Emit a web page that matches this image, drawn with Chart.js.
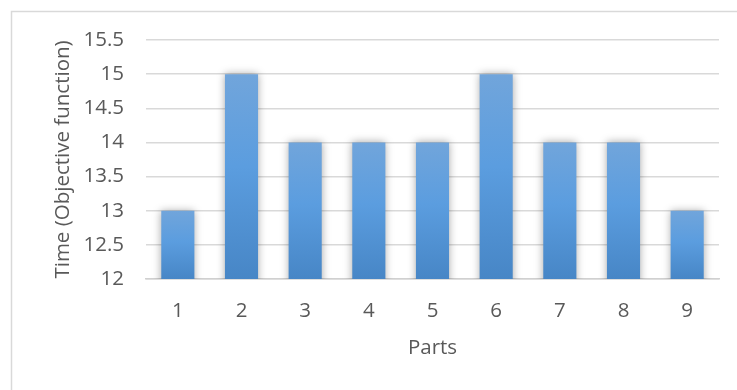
<!DOCTYPE html>
<html>
<head>
<meta charset="utf-8">
<script src="https://cdn.jsdelivr.net/npm/chart.js@4/dist/chart.umd.min.js"></script>
<style>
  html, body { margin: 0; padding: 0; background: #fff; }
  #wrap { width: 737px; height: 390px; position: relative; }
</style>
</head>
<body>
<div id="wrap"><canvas id="chart" width="737" height="390"></canvas></div>
<script>
"use strict";

// --- Veri --------------------------------------------------------------------

const parts = ["1", "2", "3", "4", "5", "6", "7", "8", "9"];
const times = [13, 15, 14, 14, 14, 15, 14, 14, 13];
const yTicks = [12, 12.5, 13, 13.5, 14, 14.5, 15, 15.5];

const FONT = "'Open Sans', 'Liberation Sans', sans-serif";
const TEXT = "#595959";
const SIZE = 20.5;

// --- Yardimcilar -------------------------------------------------------------

// each bar gets its own top-to-bottom gradient
function barFill(ctx) {
  const chart = ctx.chart;
  const y = chart.scales.y;
  if (!chart.chartArea || !y || ctx.raw == null) return "#5b9bd5";
  const top = y.getPixelForValue(ctx.raw);
  const bottom = y.getPixelForValue(yTicks[0]);
  const g = chart.ctx.createLinearGradient(0, top, 0, bottom);
  g.addColorStop(0, "#71a5db");
  g.addColorStop(0.45, "#5b9ddf");
  g.addColorStop(1, "#4786c6");
  return g;
}

const frame = {
  id: "frame",
  beforeDraw(chart) {
    const c = chart.ctx;
    c.save();
    c.fillStyle = "#fff";
    c.fillRect(0, 0, chart.width, chart.height);
    c.strokeStyle = "#d9d9d9";
    c.lineWidth = 1.5;
    c.strokeRect(11.5, 11.5, chart.width + 10, chart.height + 10);
    c.restore();
  },
};

const barShadow = {
  id: "barShadow",
  beforeDatasetsDraw(chart) {
    const c = chart.ctx;
    c.save();
    c.shadowColor = "rgba(0,0,0,0.35)";
    c.shadowBlur = 8;
    c.shadowOffsetX = 0;
    c.shadowOffsetY = 0;
  },
  afterDatasetsDraw(chart) {
    chart.ctx.restore();
  },
};

// --- Grafik ------------------------------------------------------------------

new Chart(document.getElementById("chart"), {
  type: "bar",
  data: {
    labels: parts,
    datasets: [{
      data: times,
      backgroundColor: barFill,
      borderWidth: 0,
      categoryPercentage: 1,
      barPercentage: 0.52,
    }],
  },
  options: {
    responsive: false,
    animation: false,
    events: [],
    layout: { padding: { top: 40, right: 18, bottom: 0, left: 0 } },
    plugins: { legend: { display: false }, tooltip: { enabled: false } },
    scales: {
      x: {
        grid: { display: false, drawTicks: false },
        border: { display: true, color: "#d0d0d0", width: 1.5 },
        ticks: { color: TEXT, font: { family: FONT, size: SIZE }, padding: 20 },
        title: {
          display: true, text: "Parts", color: TEXT,
          font: { family: FONT, size: SIZE }, padding: { top: 0, bottom: 30 },
        },
        afterFit: (s) => { s.height = 111; },
      },
      y: {
        min: 12, max: 15.5,
        afterBuildTicks: (s) => { s.ticks = yTicks.map((v) => ({ value: v })); },
        grid: { color: "#d9d9d9", lineWidth: 1.5, drawTicks: false },
        border: { display: false },
        ticks: {
          color: TEXT, font: { family: FONT, size: SIZE }, padding: 22,
          callback: (v) => String(v),
        },
        title: {
          display: true, text: "Time (Objective function)", color: TEXT,
          font: { family: FONT, size: SIZE }, padding: { top: 51, bottom: 0 },
        },
        afterFit: (s) => { s.width = 146; },
      },
    },
  },
  plugins: [frame, barShadow],
});
</script>
</body>
</html>
